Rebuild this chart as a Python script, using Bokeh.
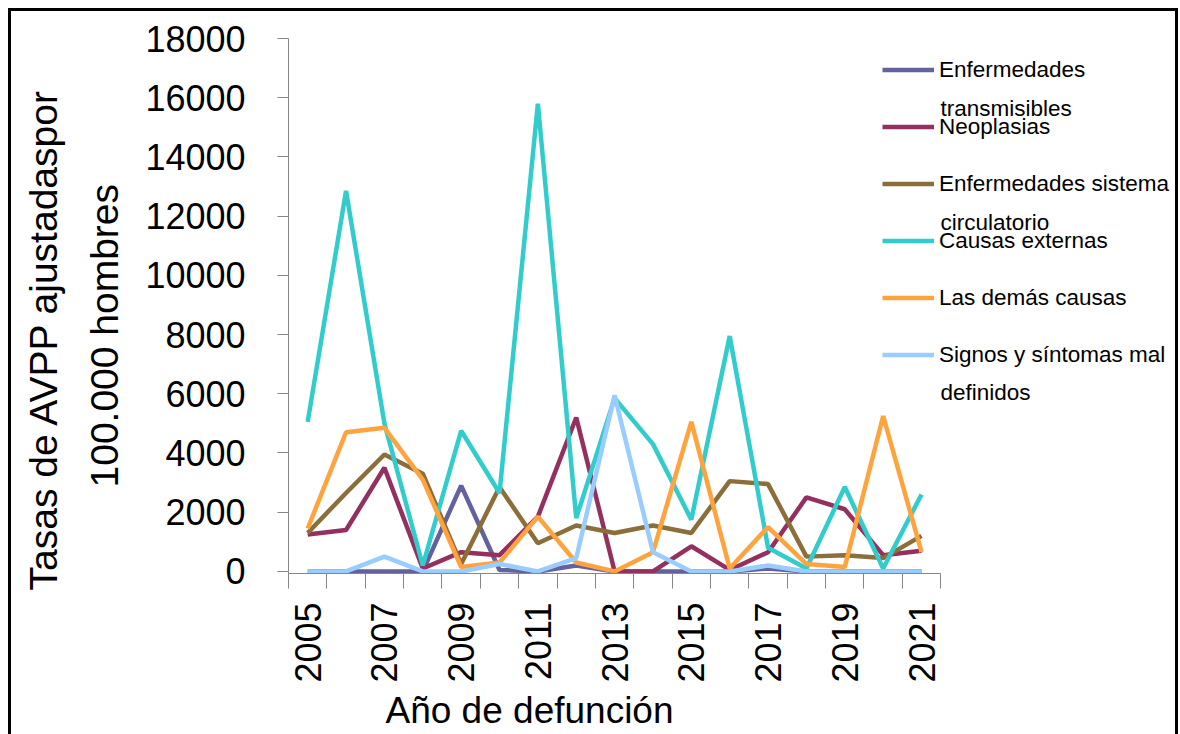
import math
from bokeh.plotting import figure
from bokeh.models import Range1d, FixedTicker, Legend, LegendItem, Label, Title
from bokeh.embed import file_html
from bokeh.resources import INLINE

# ---- data ----
years = list(range(2005, 2022))
transmisibles = [0, 0, 0, 0, 2900, 50, 0, 200, 0, 0, 0, 0, 100, 0, 0, 0, 0]
neoplasias = [1250, 1400, 3500, 100, 650, 550, 1850, 5200, 0, 0, 850, 50, 650, 2500, 2100, 550, 700]
circulatorio = [1300, 2650, 3950, 3300, 250, 2850, 950, 1550, 1300, 1550, 1300, 3050, 2950, 500, 550, 450, 1200]
externas = [5050, 12850, 5000, 200, 4750, 2650, 15800, 1800, 5850, 4300, 1750, 7950, 800, 100, 2850, 100, 2600]
demas = [1450, 4700, 4850, 3100, 150, 300, 1850, 300, 0, 650, 5050, 100, 1500, 250, 150, 5250, 650]
signos = [0, 0, 500, 0, 0, 250, 0, 450, 5950, 650, 0, 0, 200, 0, 0, 0, 0]

legend_first = ["Enfermedades", "Neoplasias", "Enfermedades sistema", "Causas externas",
                "Las demás causas", "Signos y síntomas mal"]
legend_second = ["transmisibles", "", "circulatorio", "", "", "definidos"]
colors = ["#62629E", "#93305F", "#8B6E3A", "#33CCCC", "#FFA33F", "#99CCFF"]
y_ticks = list(range(0, 18001, 2000))
x_label_years = years[::2]

FONT = "Liberation Sans"

p = figure(width=1164, height=723, output_backend="svg", toolbar_location=None,
           x_range=Range1d(2004.5, 2027.62), y_range=Range1d(-70, 18000),
           min_border_left=277, min_border_right=0, min_border_top=27, min_border_bottom=161)
p.margin = (11, 0, 0, 11)
p.styles = {"outline": "3px solid black"}
p.outline_line_color = None
p.xgrid.visible = False
p.ygrid.visible = False
p.background_fill_color = "white"
p.border_fill_color = "white"

series = [transmisibles, neoplasias, circulatorio, externas, demas, signos]
renderers = []
for vals, c in zip(series, colors):
    r = p.line(years, vals, line_color=c, line_width=4.5)
    renderers.append(r)

# x axis
xa = p.xaxis[0]
xa.bounds = (years[0] - 0.5, years[-1] + 0.5)
xa.ticker = FixedTicker(ticks=x_label_years, minor_ticks=[y - 0.5 for y in years] + [years[-1] + 0.5])
xa.major_tick_out = 0
xa.major_tick_in = 0
xa.minor_tick_out = 15
xa.minor_tick_in = 0
xa.minor_tick_line_color = "#868686"
xa.axis_line_color = "#868686"
xa.major_label_orientation = math.pi / 2
xa.major_label_standoff = 14
xa.major_label_text_font = FONT
xa.major_label_text_font_size = "36px"
xa.major_label_text_color = "black"

# y axis
ya = p.yaxis[0]
ya.ticker = FixedTicker(ticks=y_ticks)
ya.major_tick_out = 11
ya.major_tick_in = 0
ya.minor_tick_out = 0
ya.minor_tick_in = 0
ya.major_tick_line_color = "#868686"
ya.axis_line_color = "#868686"
ya.major_label_standoff = 32
ya.major_label_text_font = FONT
ya.major_label_text_font_size = "36px"
ya.major_label_text_color = "black"

# axis titles (side-panel titles)
t2 = Title(text="100.000 hombres", align="left", offset=86, standoff=33,
           text_font=FONT, text_font_size="39px", text_font_style="normal", text_color="black")
t1 = Title(text="Tasas de AVPP ajustadaspor", align="left", offset=-17, standoff=0,
           text_font=FONT, text_font_size="39px", text_font_style="normal", text_color="black")
p.add_layout(t2, "left")
p.add_layout(t1, "left")
tx = Title(text="Año de defunción", align="left", offset=97, standoff=5,
           text_font=FONT, text_font_size="37px", text_font_style="normal", text_color="black")
p.add_layout(tx, "below")

# legend (inside the extended frame, to the right of the axis bounds)
items = [LegendItem(label=lab, renderers=[r]) for lab, r in zip(legend_first, renderers)]
legend = Legend(items=items, location=(594, 205), orientation="vertical",
                glyph_width=52, glyph_height=27, label_height=27, spacing=30,
                padding=0, margin=0, label_standoff=5,
                border_line_alpha=0, background_fill_alpha=0,
                label_text_font=FONT, label_text_font_size="22.5px", label_text_color="black")
p.add_layout(legend)

second_y = {0: 465, 2: 351, 5: 181}
for i, txt in enumerate(legend_second):
    if txt:
        p.add_layout(Label(x=652, y=second_y[i], x_units="screen", y_units="screen",
                           text=txt, text_align="left", text_baseline="alphabetic",
                           text_font=FONT, text_font_size="22.5px", text_color="black"))

open("out.html", "w").write(file_html(p, INLINE))
